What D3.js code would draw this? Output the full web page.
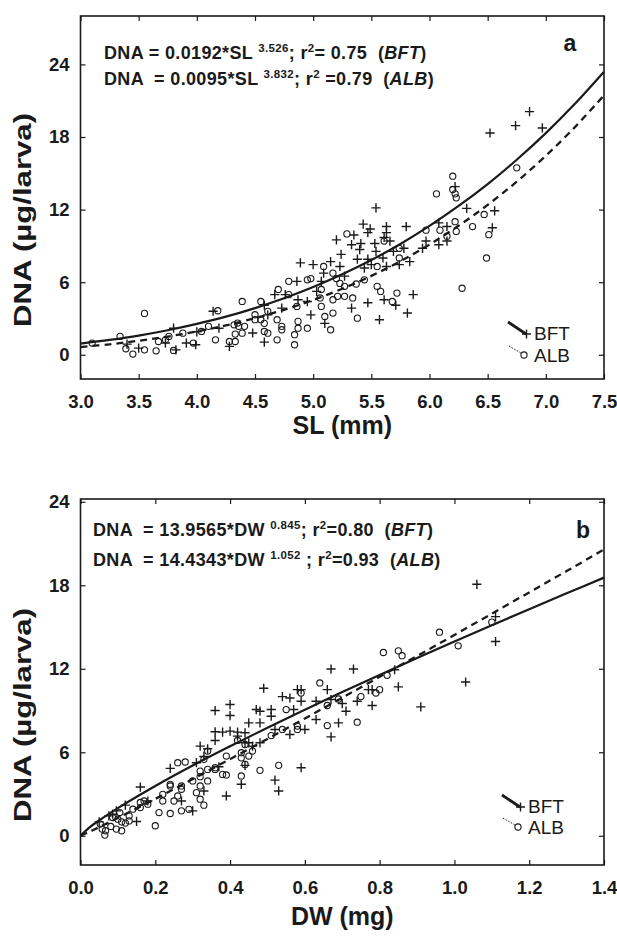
<!DOCTYPE html>
<html>
<head>
<meta charset="utf-8">
<script src="https://cdnjs.cloudflare.com/ajax/libs/d3/7.8.5/d3.min.js"></script>
<style>
  body { margin: 0; background: #fff; }
  svg { font-family: "Liberation Sans", Arial, Helvetica, sans-serif; color: #1a1a1a; }
  .eq { white-space: pre; }
</style>
</head>
<body>
<svg id="chart" width="617" height="936"></svg>
<script>
// ---- tick values
var slTicks = [3.0, 3.5, 4.0, 4.5, 5.0, 5.5, 6.0, 6.5, 7.0, 7.5];
var dwTicks = [0.0, 0.2, 0.4, 0.6, 0.8, 1.0, 1.2, 1.4];
var dnaTicks = [0, 6, 12, 18, 24];

// ---- panel a: DNA vs SL
var slBft = [[5.54,12.14],[5.43,10.8],[5.49,10.4],[5.47,10.1],[5.63,10.6],[5.63,10.1],[5.80,10.6],[5.35,9.9],
  [5.20,9.5],[5.33,9.1],[5.41,9.2],[5.53,9.2],[5.61,9.7],[5.66,9.4],[5.54,8.55],[5.40,8.7],[5.24,8.3],[5.38,7.9],
  [5.47,7.9],[5.60,8.0],[5.50,7.45],[5.63,7.3],[5.74,7.45],[5.83,7.7],[5.78,8.8],[5.69,8.55],[5.97,9.4],[5.94,8.8],
  [6.08,9.1],[6.15,9.4],[6.08,10.9],[6.15,10.6],[6.32,12.1],[6.56,11.9],[6.54,10.5],[6.22,13.9],[4.89,7.6],[5.00,7.45],
  [5.09,6.75],[5.15,7.7],[5.23,7.3],[5.27,6.5],[5.07,6.07],[4.86,6.07],[5.03,5.24],[4.87,4.55],[4.95,4.4],[4.76,4.97],
  [4.67,4.97],[4.58,4.1],[4.73,3.86],[4.61,3.3],[4.98,3.3],[5.10,2.6],[4.48,1.8],[4.58,1.05],[4.28,0.7],[5.47,4.3],
  [5.33,3.86],[5.57,2.9],[5.61,4.55],[5.71,4.1],[5.86,4.97],[5.81,3.45],[5.44,7.17],[4.14,3.6],[4.00,1.9],[3.99,0.83],
  [3.91,0.97],[3.80,2.2],[3.73,0.97],[3.82,0.41],[3.50,0.55],[3.40,0.88],[4.19,2.2],[6.52,18.33],[6.74,18.94],
  [6.86,20.1],[6.97,18.75]];
var slAlb = [[6.75,15.45],[6.20,14.76],[6.20,13.66],[6.22,13.3],[6.23,12.97],[6.06,13.3],[6.22,11.0],[6.23,10.2],
  [6.09,10.3],[6.15,9.8],[6.37,10.6],[6.47,11.6],[6.51,9.93],[6.49,8.0],[6.28,5.5],[5.97,10.3],[5.61,9.4],[5.74,8.8],
  [5.74,8.0],[5.55,7.3],[5.44,6.2],[5.37,5.85],[5.55,5.66],[5.58,5.24],[5.72,5.1],[5.34,4.7],[5.38,3.03],[5.68,4.41],
  [5.29,9.99],[4.98,6.3],[4.95,6.2],[5.09,7.3],[5.17,6.75],[5.20,6.3],[5.23,5.9],[5.21,4.83],[5.17,4.55],[5.07,4.0],
  [5.10,3.17],[5.15,2.07],[5.17,3.45],[5.07,5.4],[5.06,4.7],[5.27,5.66],[5.27,4.83],[4.79,6.07],[4.70,5.4],[4.79,4.97],
  [4.86,4.0],[4.87,2.76],[4.87,2.2],[4.84,1.66],[4.84,0.83],[4.95,2.2],[4.69,2.9],[4.73,2.35],[4.73,2.07],[4.69,1.24],
  [4.61,1.79],[4.58,1.93],[4.55,4.41],[4.61,3.59],[4.50,3.31],[4.50,2.9],[4.55,2.9],[4.58,2.6],[4.39,4.41],[4.35,2.62],
  [4.32,2.48],[4.36,2.35],[4.41,2.35],[4.39,1.79],[4.33,1.71],[4.28,1.1],[4.33,1.1],[4.18,3.64],[4.16,1.24],[4.10,2.35],
  [4.04,1.93],[3.97,0.97],[3.88,1.79],[3.76,1.52],[3.73,1.24],[3.67,1.1],[3.65,0.33],[3.80,0.36],[3.55,3.42],[3.55,0.41],
  [3.45,0.06],[3.39,0.5],[3.34,1.52],[3.10,0.97]];

// fitted curves
var slFitX = [3.0,3.25,3.5,3.75,4.0,4.25,4.5,4.75,5.0,5.25,5.5,5.75,6.0,6.25,6.5,6.75,7.0,7.25,7.5];
var slFitBft = [0.92,1.23,1.59,2.03,2.55,3.15,3.86,4.67,5.60,6.65,7.83,9.16,10.65,12.30,14.11,16.12,18.32,20.74,23.39];
var slFitAlb = [0.64,0.87,1.16,1.51,1.93,2.43,3.03,3.72,4.53,5.46,6.52,7.74,9.11,10.66,12.39,14.31,16.45,18.82,21.44];

// ---- panel b: DNA vs DW
var dwBft = [[1.06,18.07],[1.11,15.75],[1.11,13.96],[1.03,11.05],[0.91,9.26],[0.67,11.98],[0.73,11.98],[0.85,10.7],
  [0.84,11.93],[0.78,10.5],[0.78,9.36],[0.71,8.95],[0.69,8.11],[0.67,7.11],[0.63,8.35],[0.63,9.67],[0.66,10.5],
  [0.67,9.79],[0.70,9.5],[0.74,9.67],[0.77,10.5],[0.59,10.5],[0.58,10.5],[0.56,9.9],[0.54,10.0],[0.57,9.07],[0.60,7.64],
  [0.56,7.28],[0.59,9.67],[0.49,10.6],[0.47,9.07],[0.48,8.95],[0.51,9.07],[0.51,8.59],[0.48,8.11],[0.45,8.11],[0.44,7.4],
  [0.45,6.68],[0.48,6.68],[0.52,7.64],[0.40,9.43],[0.40,8.64],[0.36,9.0],[0.36,7.47],[0.40,7.52],[0.38,7.45],[0.42,7.45],
  [0.36,6.85],[0.42,7.16],[0.44,6.68],[0.46,6.44],[0.32,6.44],[0.34,6.25],[0.37,4.96],[0.39,2.86],[0.44,5.06],[0.43,3.7],
  [0.52,4.0],[0.53,3.22],[0.59,4.89],[0.31,5.25],[0.24,4.84],[0.33,3.22],[0.30,1.79],[0.27,2.5],[0.16,3.5],[0.15,1.03],
  [0.12,2.2],[0.096,1.79],[0.086,1.55],[0.076,1.43],[0.05,1.0],[0.18,2.5],[0.33,5.7]];
var dwAlb = [[0.96,14.63],[1.01,13.65],[1.10,15.35],[0.81,13.17],[0.85,13.29],[0.86,12.94],[0.82,11.53],[0.80,10.5],
  [0.79,10.26],[0.75,10.0],[0.74,8.16],[0.66,7.92],[0.64,10.98],[0.69,9.83],[0.66,9.36],[0.59,10.26],[0.58,7.64],
  [0.58,7.88],[0.55,9.07],[0.54,7.64],[0.51,7.2],[0.46,6.09],[0.44,6.56],[0.43,5.97],[0.43,5.6],[0.45,5.73],[0.44,5.13],
  [0.43,4.3],[0.48,4.7],[0.53,5.06],[0.42,6.85],[0.39,5.73],[0.36,4.89],[0.38,4.41],[0.39,4.37],[0.36,4.77],[0.34,6.09],
  [0.33,5.49],[0.34,4.77],[0.32,4.65],[0.32,4.25],[0.34,3.94],[0.32,3.58],[0.30,3.94],[0.31,3.1],[0.32,2.63],[0.33,2.2],
  [0.29,1.9],[0.27,1.79],[0.26,5.25],[0.28,5.3],[0.27,3.58],[0.27,3.34],[0.26,2.86],[0.25,2.5],[0.24,3.7],[0.24,3.58],
  [0.22,2.98],[0.22,2.5],[0.21,1.67],[0.20,0.72],[0.24,1.6],[0.17,2.5],[0.16,2.03],[0.16,2.39],[0.14,1.91],[0.13,1.43],
  [0.11,1.0],[0.10,1.19],[0.086,1.31],[0.11,0.36],[0.096,0.48],[0.081,0.67],[0.067,0.36],[0.058,0.48],[0.065,0.05],
  [0.053,0.84],[0.105,1.67],[0.12,0.91],[0.13,1.07],[0.18,2.27]];

var dwFitX = [0,0.025,0.05,0.1,0.2,0.3,0.4,0.5,0.6,0.7,0.8,0.9,1.0,1.1,1.2,1.3,1.4];
var dwFitBft = [0,0.62,1.11,1.99,3.58,5.05,6.43,7.77,9.06,10.33,11.56,12.77,13.96,15.13,16.28,17.42,18.55];
var dwFitAlb = [0,0.30,0.62,1.28,2.65,4.07,5.51,6.96,8.43,9.92,11.42,12.92,14.43,15.96,17.49,19.02,20.57];

var ink = "#1a1a1a";
var frameL = 80.5, frameR = 604;
var svg = d3.select("#chart");

function drawPanel(o) {
  var g = svg.append("g").attr("class", "panel");
  var x = d3.scaleLinear().domain(o.xDomain).range([frameL, frameR]);
  var y = d3.scaleLinear().domain(o.yDomain).range([o.bottom, o.top]);

  // ticks, all pointing inward
  g.append("g").attr("transform", "translate(0," + o.bottom + ")")
    .call(d3.axisBottom(x).tickValues(o.xTicks).tickSize(-5).tickPadding(15.5).tickFormat(d3.format(".1f")));
  g.append("g").attr("transform", "translate(0," + o.top + ")")
    .call(d3.axisTop(x).tickValues(o.xTicks).tickSize(-5).tickFormat(""));
  g.append("g").attr("transform", "translate(" + frameL + ",0)")
    .call(d3.axisLeft(y).tickValues(dnaTicks).tickSize(-5).tickPadding(11));
  g.append("g").attr("transform", "translate(" + frameR + ",0)")
    .call(d3.axisRight(y).tickValues(dnaTicks).tickSize(-5).tickFormat(""));
  g.selectAll(".domain").remove();
  g.selectAll(".tick line").attr("stroke", ink).attr("stroke-width", 1.2);
  g.selectAll(".tick text").attr("fill", ink)
    .style("font", "bold 18.5px 'Liberation Sans', Arial, sans-serif");

  g.append("rect")
    .attr("x", frameL).attr("y", o.top)
    .attr("width", frameR - frameL).attr("height", o.bottom - o.top)
    .attr("fill", "none").attr("stroke", ink).attr("stroke-width", 1.6);

  // fitted lines
  var line = d3.line().x(function(d) { return x(d[0]); }).y(function(d) { return y(d[1]); })
    .curve(d3.curveCatmullRom);
  g.append("path").datum(d3.zip(o.fitX, o.fitAlb))
    .attr("d", line).attr("fill", "none").attr("stroke", ink)
    .attr("stroke-width", 2.3).attr("stroke-dasharray", "7,5");
  g.append("path").datum(d3.zip(o.fitX, o.fitBft))
    .attr("d", line).attr("fill", "none").attr("stroke", ink).attr("stroke-width", 2.2);

  // points
  g.selectAll(".alb").data(o.alb).enter().append("circle")
    .attr("class", "alb")
    .attr("cx", function(d) { return x(d[0]); })
    .attr("cy", function(d) { return y(d[1]); })
    .attr("r", 3.1).attr("fill", "none").attr("stroke", ink).attr("stroke-width", 1.1);
  g.selectAll(".bft").data(o.bft).enter().append("path")
    .attr("class", "bft")
    .attr("d", function(d) {
      var cx = x(d[0]), cy = y(d[1]), s = 4.6;
      return "M" + (cx - s) + "," + cy + "H" + (cx + s) + "M" + cx + "," + (cy - s) + "V" + (cy + s);
    })
    .attr("stroke", ink).attr("stroke-width", 1.4);

  // axis titles
  g.append("text")
    .attr("x", (frameL + frameR) / 2).attr("y", o.xTitleY)
    .attr("text-anchor", "middle").attr("fill", ink)
    .style("font", "bold 25px 'Liberation Sans', Arial, sans-serif")
    .text(o.xTitle);
  g.append("text")
    .attr("transform", "translate(31," + o.yTitleY + ") rotate(-90)")
    .attr("text-anchor", "middle").attr("fill", ink)
    .attr("textLength", 214).attr("lengthAdjust", "spacingAndGlyphs")
    .style("font", "bold 24px 'Liberation Sans', Arial, sans-serif")
    .text("DNA (\u00b5g/larva)");

  // panel letter
  g.append("text")
    .attr("x", o.letterX).attr("y", o.letterY)
    .attr("text-anchor", "middle").attr("fill", ink)
    .style("font", "bold 23px 'Liberation Sans', Arial, sans-serif")
    .text(o.letter);

  // equations
  o.eqs.forEach(function(eq) {
    var t = g.append("text").attr("class", "eq").attr("x", eq.x).attr("y", eq.y).attr("fill", ink)
      .style("font", "bold 18px 'Liberation Sans', Arial, sans-serif")
      .style("letter-spacing", "0.35px");
    var up = false;
    eq.parts.forEach(function(p) {
      var s = t.append("tspan").text(p[0]);
      if (p[1] === "s") {
        s.attr("dy", -7).style("font-size", "11.5px");
        up = true;
      } else {
        if (up) { s.attr("dy", 7); up = false; }
        if (p[1] === "i") s.style("font-style", "italic");
      }
    });
  });

  // legend
  var lx = o.legX, lb = o.legBftY, la = o.legAlbY;
  g.append("line").attr("x1", lx).attr("y1", lb - 11).attr("x2", lx + 18).attr("y2", lb + 1)
    .attr("stroke", ink).attr("stroke-width", 2.8);
  g.append("path")
    .attr("d", "M" + (lx + 14) + "," + (lb + 1) + "h9M" + (lx + 18.5) + "," + (lb - 3.5) + "v9")
    .attr("stroke", ink).attr("stroke-width", 1.4);
  g.append("line").attr("x1", lx + 1).attr("y1", la - 8).attr("x2", lx + 13).attr("y2", la - 1)
    .attr("stroke", ink).attr("stroke-width", 1).attr("stroke-dasharray", "1.5,1.5");
  g.append("circle").attr("cx", lx + 16).attr("cy", la + 1).attr("r", 3.1)
    .attr("fill", "none").attr("stroke", ink).attr("stroke-width", 1.1);
  g.append("text").attr("x", lx + 26).attr("y", lb + 7).attr("fill", ink)
    .style("font", "19px 'Liberation Sans', Arial, sans-serif").text("BFT");
  g.append("text").attr("x", lx + 26).attr("y", la + 8).attr("fill", ink)
    .style("font", "19px 'Liberation Sans', Arial, sans-serif").text("ALB");
}

drawPanel({
  xDomain: [3.0, 7.5], yDomain: [-2, 28], top: 16, bottom: 379,
  xTicks: slTicks, xTitle: "SL (mm)", xTitleY: 434, yTitleY: 220,
  fitX: slFitX, fitBft: slFitBft, fitAlb: slFitAlb, bft: slBft, alb: slAlb,
  letter: "a", letterX: 570, letterY: 51,
  legX: 508, legBftY: 333, legAlbY: 354,
  eqs: [
    { x: 104, y: 59, parts: [["DNA = 0.0192*SL "], ["3.526", "s"], ["; r"], ["2", "s"], ["= 0.75  ("], ["BFT", "i"], [")"]] },
    { x: 104, y: 85, parts: [["DNA  = 0.0095*SL "], ["3.832", "s"], ["; r"], ["2", "s"], [" =0.79  ("], ["ALB", "i"], [")"]] }
  ]
});

drawPanel({
  xDomain: [0, 1.4], yDomain: [-2.1, 24.2], top: 499, bottom: 865,
  xTicks: dwTicks, xTitle: "DW (mg)", xTitleY: 925, yTitleY: 715,
  fitX: dwFitX, fitBft: dwFitBft, fitAlb: dwFitAlb, bft: dwBft, alb: dwAlb,
  letter: "b", letterX: 583, letterY: 538,
  legX: 502, legBftY: 806, legAlbY: 826,
  eqs: [
    { x: 93, y: 536, parts: [["DNA  = 13.9565*DW "], ["0.845", "s"], ["; r"], ["2", "s"], ["=0.80  ("], ["BFT", "i"], [")"]] },
    { x: 93, y: 566, parts: [["DNA  = 14.4343*DW "], ["1.052", "s"], [" ; r"], ["2", "s"], ["=0.93  ("], ["ALB", "i"], [")"]] }
  ]
});
</script>
</body>
</html>
